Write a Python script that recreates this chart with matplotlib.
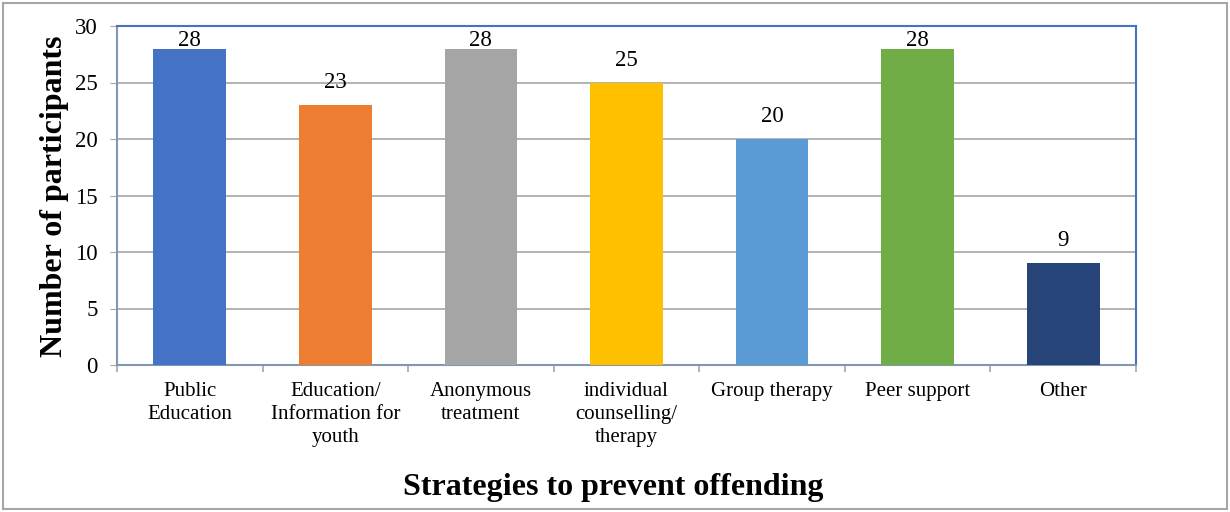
import matplotlib
matplotlib.use("Agg")
import matplotlib.pyplot as plt
from matplotlib.patches import Rectangle

categories = ["Public\nEducation", "Education/\nInformation for\nyouth", "Anonymous\ntreatment",
              "individual\ncounselling/\ntherapy", "Group therapy", "Peer support", "Other"]
values = [28, 23, 28, 25, 20, 28, 9]
colors = ["#4472C4", "#ED7D31", "#A5A5A5", "#FFC000", "#5B9BD5", "#70AD47", "#264478"]
yticks = [0, 5, 10, 15, 20, 25, 30]

plt.rcParams["font.family"] = ["Liberation Serif", "DejaVu Serif"]

fig = plt.figure(figsize=(12.3, 5.12), dpi=100)
ax = fig.add_axes([117 / 1230, 1 - 365 / 512, (1136 - 117) / 1230, (365 - 26) / 512])

x = list(range(len(categories)))
ax.bar(x, values, width=0.5, color=colors, zorder=3)

ymax = 30
# labels sit above each bar, kept inside the plot frame
for xi, v in zip(x, values):
    ax.text(xi, min(v + 1.5, ymax - 1.75), str(v), ha="center", va="baseline",
            fontsize=16.5, zorder=4)

ax.set_xlim(-0.5, len(categories) - 0.5)
ax.set_ylim(0, ymax)
ax.set_yticks(yticks)
ax.set_yticklabels([str(t) for t in yticks], fontsize=16.5)
ax.yaxis.grid(True, color="#A6A6A6", linewidth=1.2, zorder=0)
ax.tick_params(axis="y", length=5, color="#A6A6A6", pad=9)

ax.set_xticks(x)
ax.set_xticklabels(categories, fontsize=15, linespacing=1.28)
ax.tick_params(axis="x", length=0, pad=12)
ax.set_xticks([i - 0.5 for i in range(len(categories) + 1)], minor=True)
ax.tick_params(axis="x", which="minor", length=5, color="#A6A6A6", width=1.2)

for side in ["top", "right"]:
    ax.spines[side].set_color("#4472C4")
    ax.spines[side].set_linewidth(1.5)
for side in ["left", "bottom"]:
    ax.spines[side].set_color("#8497B0")
    ax.spines[side].set_linewidth(1.5)

fig.text(55 / 1230, 1 - 196 / 512, "Number of participants", rotation=90, ha="center", va="center",
         fontsize=23, fontweight="bold")
fig.text(613 / 1230, 1 - 488 / 512, "Strategies to prevent offending", ha="center", va="center",
         fontsize=23, fontweight="bold")

fig.patches.append(Rectangle((3 / 1230, 3 / 512), 1224 / 1230, 506 / 512, transform=fig.transFigure,
                             fill=False, edgecolor="#A6A6A6", linewidth=1.5))

fig.savefig("out.png", dpi=100)
